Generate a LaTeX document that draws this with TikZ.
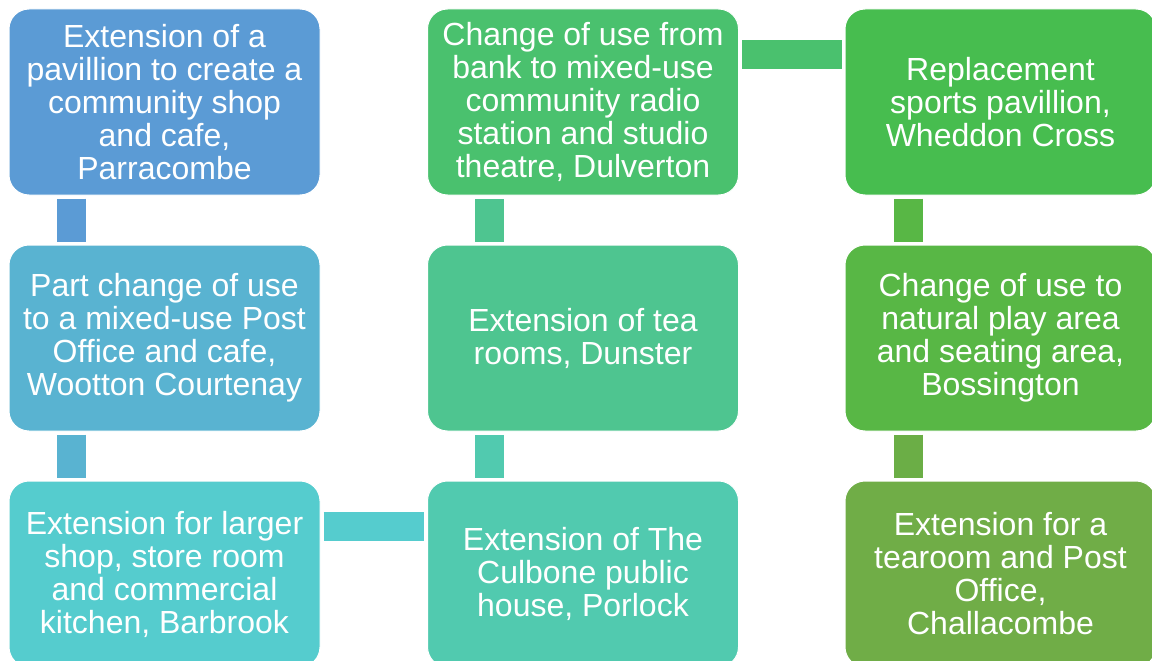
\documentclass[tikz,border=0pt]{standalone}
\usepackage{fontspec}
\setmainfont{Liberation Sans}
\definecolor{k1}{HTML}{5B9BD5}
\definecolor{k2}{HTML}{59B3D1}
\definecolor{k3}{HTML}{55CCCE}
\definecolor{k4}{HTML}{51CAAF}
\definecolor{k5}{HTML}{4EC590}
\definecolor{k6}{HTML}{4AC16E}
\definecolor{k7}{HTML}{47BD4F}
\definecolor{k8}{HTML}{58B745}
\definecolor{k9}{HTML}{70AD47}
\definecolor{k89}{HTML}{6BAE46}
\tikzset{
  box/.style={rectangle, rounded corners=20pt, minimum width=311pt, minimum height=186pt,
    draw=white, line width=1pt, text=white, align=center, inner sep=0pt,
    font=\fontsize{32}{33}\selectfont},
  conn/.style={line width=29pt}
}
\begin{document}
\begin{tikzpicture}[x=1pt,y=-1pt]
\useasboundingbox (0,0) rectangle (1152,661);
\node[box, fill=k1] (a1) at (164.5,102) {Extension of a\\pavillion to create a\\community shop\\and cafe,\\Parracombe};
\node[box, fill=k2] (a2) at (164.5,338) {Part change of use\\to a mixed-use Post\\Office and cafe,\\Wootton Courtenay};
\node[box, fill=k3] (a3) at (164.5,574) {Extension for larger\\shop, store room\\and commercial\\kitchen, Barbrook};
\node[box, fill=k4] (b3) at (583,574) {Extension of The\\Culbone public\\house, Porlock};
\node[box, fill=k5] (b2) at (583,338) {Extension of tea\\rooms, Dunster};
\node[box, fill=k6] (b1) at (583,102) {Change of use from\\bank to mixed-use\\community radio\\station and studio\\theatre, Dulverton};
\node[box, fill=k7] (c1) at (1000.5,102) {Replacement\\sports pavillion,\\Wheddon Cross};
\node[box, fill=k8] (c2) at (1000.5,338) {Change of use to\\natural play area\\and seating area,\\Bossington};
\node[box, fill=k9] (c3) at (1000.5,574) {Extension for a\\tearoom and Post\\Office,\\Challacombe};
% connectors
\draw[conn, k1] ([xshift=-93pt,yshift=-3pt]a1.south) -- ([xshift=-93pt,yshift=3pt]a2.north);
\draw[conn, k2] ([xshift=-93pt,yshift=-3pt]a2.south) -- ([xshift=-93pt,yshift=3pt]a3.north);
\draw[conn, k3] ([xshift=3pt,yshift=48pt]a3.east) -- ([xshift=-3pt,yshift=48pt]b3.west);
\draw[conn, k4] ([xshift=-93.5pt,yshift=3pt]b3.north) -- ([xshift=-93.5pt,yshift=-3pt]b2.south);
\draw[conn, k5] ([xshift=-93.5pt,yshift=3pt]b2.north) -- ([xshift=-93.5pt,yshift=-3pt]b1.south);
\draw[conn, k6] ([xshift=3pt,yshift=47.5pt]b1.east) -- ([xshift=-3pt,yshift=47.5pt]c1.west);
\draw[conn, k8] ([xshift=-92pt,yshift=-3pt]c1.south) -- ([xshift=-92pt,yshift=3pt]c2.north);
\draw[conn, k89] ([xshift=-92pt,yshift=-3pt]c2.south) -- ([xshift=-92pt,yshift=3pt]c3.north);
\end{tikzpicture}
\end{document}
